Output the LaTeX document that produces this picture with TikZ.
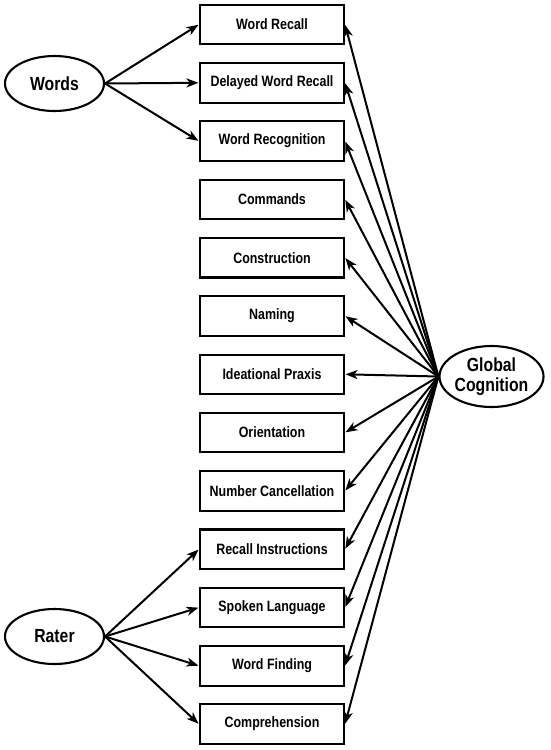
\documentclass[tikz,border=0pt]{standalone}
\usepackage{fontspec}
\setmainfont{Liberation Sans}
\newfontfamily\condbold[FakeStretch=0.83]{Liberation Sans Bold}
\usetikzlibrary{arrows.meta,shapes.geometric}
\begin{document}
\begin{tikzpicture}[x=1pt,y=-1pt,
  obsbox/.style={draw,line width=2.1pt,minimum width=144pt,minimum height=39.5pt,inner sep=0pt,
    font=\condbold\fontsize{15}{17}\selectfont},
  latent/.style={draw,ellipse,line width=2.1pt,inner sep=0pt,
    font=\condbold\fontsize{19}{20}\selectfont,align=center},
  arr/.style={line width=2pt,-{Stealth[length=12pt,width=9pt,inset=3.5pt]},shorten >=0.5pt}
]
\useasboundingbox (0,0) rectangle (551,750);
\foreach \t [count=\i from 0] in {Word Recall,Delayed Word Recall,Word Recognition,Commands,Construction,Naming,Ideational Praxis,Orientation,Number Cancellation,Recall Instructions,Spoken Language,Word Finding,Comprehension}{
  \node[obsbox] (b\i) at (272,24.5+58.3*\i) {\t};
}
\node[latent,minimum width=99pt,minimum height=55pt] (words) at (54.5,83.5) {Words};
\node[latent,minimum width=99pt,minimum height=55pt] (rater) at (54.5,636.5) {Rater};
\node[latent,minimum width=101pt,minimum height=61pt] (global) at (491.5,376.5) {Global\\Cognition};
\foreach \i in {0,1,2}{ \draw[arr] (words.east) -- (b\i.west); }
\foreach \i in {9,10,11,12}{ \draw[arr] (rater.east) -- (b\i.west); }
\foreach \i in {0,...,12}{ \draw[arr] (global.west) -- (b\i.east); }
\end{tikzpicture}
\end{document}
